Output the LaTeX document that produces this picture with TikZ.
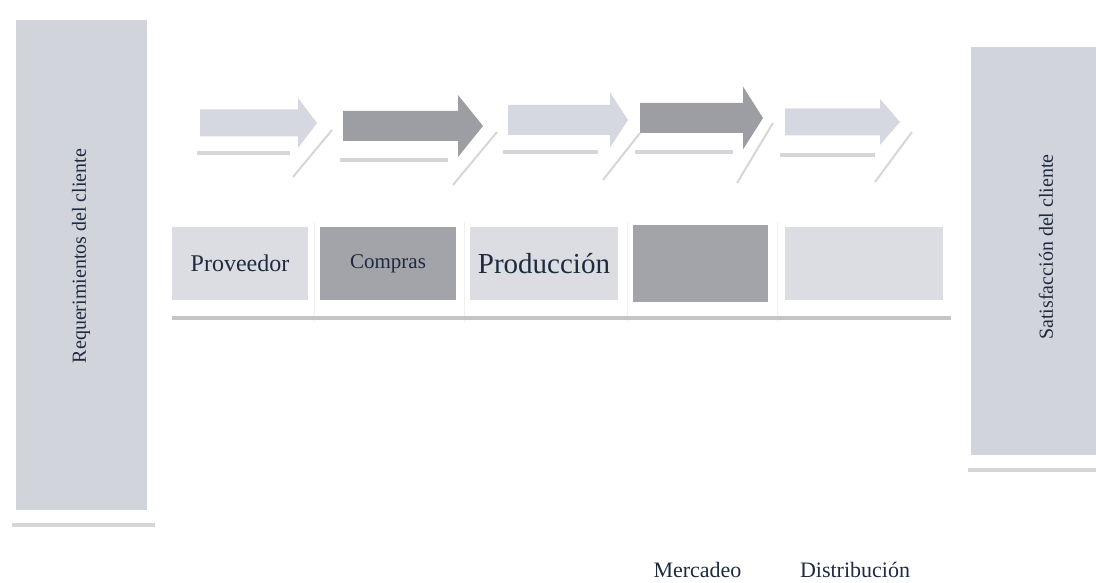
\documentclass[tikz,border=0pt]{standalone}
\usepackage{fontspec}
\setmainfont{Liberation Serif}
\usetikzlibrary{positioning}

\definecolor{claro}{HTML}{DCDDE2}
\definecolor{oscuro}{HTML}{A3A4A9}
\definecolor{flclaro}{HTML}{D6D8E1}
\definecolor{floscuro}{HTML}{9D9EA4}
\definecolor{lateral}{HTML}{D2D4DC}
\definecolor{sombra}{HTML}{D6D6DA}
\definecolor{texto}{HTML}{1E2B3F}

\begin{document}
\begin{tikzpicture}[x=1pt,y=-1pt,
  caja/.style={minimum height=73pt,inner sep=0pt,text=texto},
  lado/.style={fill=lateral,inner sep=0pt,anchor=north west},
  vertical/.style={rotate=90,text=texto,font=\fontsize{20}{24}\selectfont},
  pie/.style={text=texto,anchor=base,inner sep=1pt,font=\fontsize{22}{26}\selectfont},
  raya/.style={sombra,line width=3.5pt},
  diag/.style={sombra,line width=2pt}]

\useasboundingbox (0,0) rectangle (1096,583);

\node[lado,minimum width=131pt,minimum height=490pt](req) at (16,20){};
\node[lado,minimum width=125pt,minimum height=408pt](sat) at (971,47){};
\node[vertical](reqtxt) at (81,256){Requerimientos del cliente};
\node[vertical](sattxt) at (1046,247){Satisfacción del cliente};

\node[caja,fill=claro,minimum width=136pt,font=\fontsize{24}{28}\selectfont](prov) at (240,263.5){Proveedor};
\node[caja,fill=oscuro,minimum width=136pt,font=\fontsize{21}{25}\selectfont](comp) at (388,263.5){Compras};
\node[caja,fill=claro,minimum width=148pt,font=\fontsize{29}{33}\selectfont](prod) at (544,263.5){Producción};
\node[caja,fill=oscuro,minimum width=135pt,minimum height=77pt](merc) at (700.5,263.5){};
\node[caja,fill=claro,minimum width=158pt](dist) at (864,263.5){};

\node[pie](merctxt) at (697.5,577){Mercadeo};
\node[pie](disttxt) at (855,577){Distribución};

\foreach \xa/\xb/\xc/\yc/\bh/\hh/\col in {200/298/317/123/13.5/25/flclaro,
    343/458/483/126/15/31/floscuro, 508/610/628/120/15/27.5/flclaro,
    640/743/763/118/15/31.5/floscuro, 785/880/900/122/13.5/23/flclaro}
  \fill[\col] (\xa,\yc-\bh) -- (\xb,\yc-\bh) -- (\xb,\yc-\hh) -- (\xc,\yc)
    -- (\xb,\yc+\hh) -- (\xb,\yc+\bh) -- (\xa,\yc+\bh) -- cycle;

\foreach \xa/\xb/\y in {197/290/153,340/448/160,503/598/152,635/733/152,780/875/155}
  \draw[raya] (\xa,\y) -- (\xb,\y);

\foreach \xa/\ya/\xb/\yb in {293/177/332/130,453/185/497/132,603/180/640/133,
    737/183/773/123,875/182/912/132}
  \draw[diag] (\xa,\ya) -- (\xb,\yb);

\foreach \x in {314,464,627,777}
  \draw[black!6,line width=0.8pt] (\x,222) -- (\x,322);

\draw[raya,sombra!92!black] (prov.south west |- 0,318) -- (951,318);
\draw[raya] (12,525) -- (155,525);
\draw[raya] (968,470) -- (1096,470);

\end{tikzpicture}
\end{document}
